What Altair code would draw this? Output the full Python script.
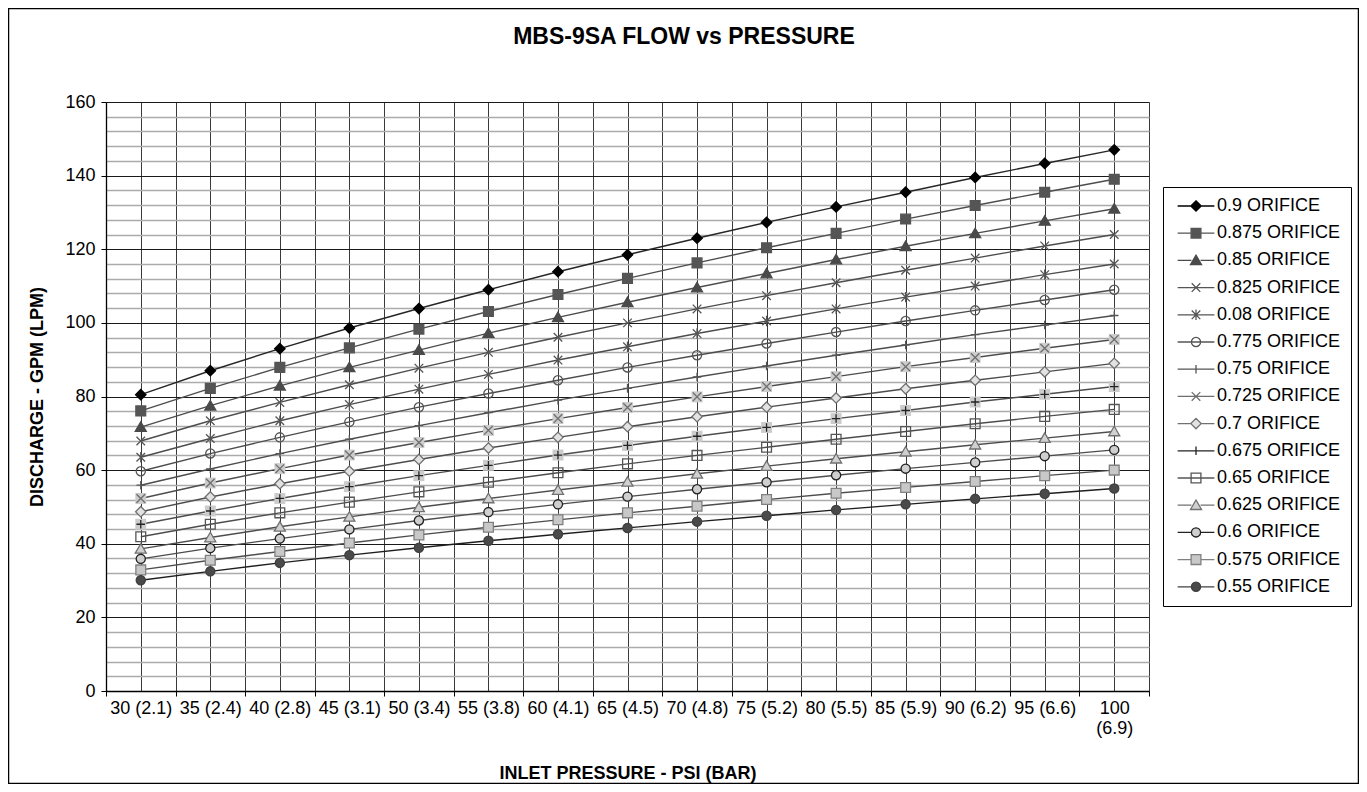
import json
import altair as alt
import pandas as pd

# ---------------- data ----------------
pressures = [30, 35, 40, 45, 50, 55, 60, 65, 70, 75, 80, 85, 90, 95, 100]
x_labels = ["30 (2.1)", "35 (2.4)", "40 (2.8)", "45 (3.1)", "50 (3.4)", "55 (3.8)",
            "60 (4.1)", "65 (4.5)", "70 (4.8)", "75 (5.2)", "80 (5.5)", "85 (5.9)",
            "90 (6.2)", "95 (6.6)", "100 (6.9)"]

series = ["0.9 ORIFICE", "0.875 ORIFICE", "0.85 ORIFICE", "0.825 ORIFICE",
          "0.08 ORIFICE", "0.775 ORIFICE", "0.75 ORIFICE", "0.725 ORIFICE",
          "0.7 ORIFICE", "0.675 ORIFICE", "0.65 ORIFICE", "0.625 ORIFICE",
          "0.6 ORIFICE", "0.575 ORIFICE", "0.55 ORIFICE"]

q_0900 = [80.5, 87.0, 93.0, 98.6, 103.9, 109.0, 113.9, 118.5, 123.0, 127.3, 131.5, 135.5, 139.5, 143.3, 147.0]
q_0875 = [76.1, 82.2, 87.9, 93.2, 98.3, 103.1, 107.7, 112.1, 116.3, 120.4, 124.3, 128.2, 131.9, 135.5, 139.0]
q_0850 = [71.7, 77.5, 82.9, 87.9, 92.6, 97.2, 101.5, 105.6, 109.6, 113.4, 117.2, 120.8, 124.3, 127.7, 131.0]
q_0825 = [67.9, 73.4, 78.4, 83.2, 87.7, 92.0, 96.1, 100.0, 103.8, 107.4, 110.9, 114.3, 117.6, 120.9, 124.0]
q_0080 = [63.5, 68.6, 73.4, 77.8, 82.0, 86.0, 89.9, 93.5, 97.1, 100.5, 103.8, 107.0, 110.0, 113.1, 116.0]
q_0775 = [59.7, 64.5, 68.9, 73.1, 77.1, 80.8, 84.4, 87.9, 91.2, 94.4, 97.5, 100.5, 103.4, 106.2, 109.0]
q_0750 = [55.9, 60.3, 64.5, 68.4, 72.1, 75.6, 79.0, 82.2, 85.3, 88.3, 91.2, 94.0, 96.8, 99.4, 102.0]
q_0725 = [52.3, 56.5, 60.4, 64.1, 67.5, 70.8, 74.0, 77.0, 79.9, 82.7, 85.4, 88.1, 90.6, 93.1, 95.5]
q_0700 = [48.7, 52.7, 56.3, 59.7, 62.9, 66.0, 68.9, 71.8, 74.5, 77.1, 79.6, 82.1, 84.4, 86.7, 89.0]
q_0675 = [45.3, 48.9, 52.3, 55.5, 58.5, 61.3, 64.1, 66.7, 69.2, 71.6, 74.0, 76.2, 78.5, 80.6, 82.7]
q_0650 = [41.9, 45.3, 48.4, 51.3, 54.1, 56.7, 59.3, 61.7, 64.0, 66.2, 68.4, 70.5, 72.6, 74.6, 76.5]
q_0625 = [38.6, 41.7, 44.6, 47.3, 49.9, 52.3, 54.6, 56.8, 59.0, 61.1, 63.1, 65.0, 66.9, 68.7, 70.5]
q_0600 = [35.9, 38.8, 41.4, 43.9, 46.3, 48.6, 50.7, 52.8, 54.8, 56.7, 58.6, 60.4, 62.1, 63.8, 65.5]
q_0575 = [32.9, 35.5, 37.9, 40.2, 42.4, 44.5, 46.5, 48.4, 50.2, 52.0, 53.7, 55.3, 56.9, 58.5, 60.0]
q_0550 = [30.1, 32.5, 34.8, 36.9, 38.9, 40.8, 42.6, 44.3, 46.0, 47.6, 49.2, 50.7, 52.2, 53.6, 55.0]

all_values = [q_0900, q_0875, q_0850, q_0825, q_0080, q_0775, q_0750, q_0725,
              q_0700, q_0675, q_0650, q_0625, q_0600, q_0575, q_0550]

y_ticks = list(range(0, 161, 4))
chart_title = "MBS-9SA FLOW vs PRESSURE"

# ---------------- styling ----------------
FONT = "Liberation Sans"

SQ = "M-0.8,-0.8H0.8V0.8H-0.8Z"
DIA = "M0,-0.85L0.85,0L0,0.85L-0.85,0Z"
TRI = "M0,-0.85L0.9,0.7H-0.9Z"
XX = "M-0.7,-0.7L0.7,0.7M-0.7,0.7L0.7,-0.7"
AST = XX + "M0,-0.85V0.85"
CIR = "M-0.75,0A0.75,0.75,0,1,0,0.75,0A0.75,0.75,0,1,0,-0.75,0Z"
PLUS = "M-0.7,0H0.7M0,-0.7V0.7"

marker_paths = [DIA, SQ, TRI, XX, AST, CIR, PLUS, XX, DIA, PLUS, SQ, TRI, CIR, SQ, CIR]
open_marker = [False, False, False, True, True, True, True, True, False, True, True, False, False, False, False]
marker_fill = ["#000000", "#555555", "#4a4a4a", "transparent", "transparent", "transparent",
               "transparent", "transparent", "#e2e2e2", "transparent", "transparent",
               "#d0d0d0", "#cfcfcf", "#c8c8c8", "#4a4a4a"]
marker_stroke = ["#000000", "#555555", "#4a4a4a", "#555555", "#555555", "#555555",
                 "#555555", "#6e6e6e", "#707070", "#222222", "#555555",
                 "#707070", "#222222", "#808080", "#404040"]
line_color = ["#262626", "#4d4d4d", "#4d4d4d", "#4d4d4d", "#4d4d4d", "#4d4d4d",
              "#4d4d4d", "#4d4d4d", "#4d4d4d", "#4d4d4d", "#4d4d4d",
              "#4d4d4d", "#4d4d4d", "#4d4d4d", "#1e1e1e"]
bg_series = ["0.725 ORIFICE", "0.675 ORIFICE"]

legend_paths = []
for p, op in zip(marker_paths, open_marker):
    if op:
        legend_paths.append("M-3,0H3" + p)
    else:
        legend_paths.append("M-3,0H-0.75M0.75,0H3" + p)

rows = []
for s, vals in zip(series, all_values):
    for p, v in zip(pressures, vals):
        rows.append({"series": s, "psi": p, "q": v})
df = pd.DataFrame(rows)

x_grid = sorted(set(pressures + [p - 2.5 for p in pressures] + [pressures[-1] + 2.5]))
lab_js = json.dumps([l.split(" ") if l.startswith("100") else l for l in x_labels])
x_label_expr = f"datum.value % 5 === 0 ? {lab_js}[(datum.value - {pressures[0]}) / 5] : ''"

x_enc = alt.X(
    "psi:Q",
    scale=alt.Scale(domain=[x_grid[0], x_grid[-1]], nice=False, zero=False),
    axis=alt.Axis(
        values=x_grid,
        labelExpr=x_label_expr,
        labelOverlap=False,
        labelFlush=False,
        labelFont=FONT, labelFontSize=18, labelColor="#000000",
        labelLineHeight=20, labelPadding=3,
        tickSize=5, tickColor="#000000",
        tickOpacity={"condition": {"test": "datum.value % 5 === 0", "value": 0}, "value": 1},
        grid=True, gridColor="#3a3a3a", gridWidth=1,
        domainColor="#000000", domainWidth=1.3,
        title="INLET PRESSURE - PSI (BAR)",
        titleFont=FONT, titleFontSize=18, titleFontWeight="bold", titleColor="#000000",
        titlePadding=27,
    ),
)
y_enc = alt.Y(
    "q:Q",
    scale=alt.Scale(domain=[0, 160], nice=False),
    axis=alt.Axis(
        values=y_ticks,
        labelExpr="datum.value % 20 === 0 ? datum.label : ''",
        labelFont=FONT, labelFontSize=18, labelColor="#000000", labelPadding=6,
        tickSize=5, tickColor="#000000",
        tickOpacity={"condition": {"test": "datum.value % 20 === 0", "value": 1}, "value": 0},
        grid=True,
        gridColor={"condition": {"test": "datum.value % 20 === 0", "value": "#1a1a1a"}, "value": "#ababab"},
        gridWidth={"condition": {"test": "datum.value % 20 === 0", "value": 1}, "value": 1.4},
        domainColor="#000000", domainWidth=1.3,
        title="DISCHARGE - GPM (LPM)",
        titleFont=FONT, titleFontSize=18, titleFontWeight="bold", titleColor="#000000",
        titlePadding=18,
    ),
)

base = alt.Chart(df).encode(x=x_enc, y=y_enc)

lines = base.mark_line(strokeWidth=1.4).encode(
    stroke=alt.Stroke("series:N", scale=alt.Scale(domain=series, range=line_color), legend=None),
    detail="series:N",
)

backs = base.mark_point(shape="square", filled=True, size=120, color="#cccccc", opacity=1).transform_filter(
    alt.FieldOneOfPredicate(field="series", oneOf=bg_series)
)

points = base.mark_point(size=150, opacity=1, strokeWidth=1.3).encode(
    shape=alt.Shape("series:N", scale=alt.Scale(domain=series, range=marker_paths), legend=None),
    fill=alt.Fill("series:N", scale=alt.Scale(domain=series, range=marker_fill), legend=None),
    stroke=alt.Stroke("series:N", scale=alt.Scale(domain=series, range=marker_stroke), legend=None),
)

leg = alt.Legend(
    title=None, orient="none", legendX=1057, legendY=85,
    labelFont=FONT, labelFontSize=18, labelColor="#000000",
    symbolSize=150, symbolStrokeWidth=1.3, symbolOffset=14, labelOffset=12,
    rowPadding=9.2, padding=10,
    strokeColor="#000000", fillColor="#ffffff",
)
legend_layer = base.mark_point(size=150, opacity=1, strokeWidth=1.3).encode(
    shape=alt.Shape("series:N", scale=alt.Scale(domain=series, range=legend_paths), legend=leg, sort=series),
    fill=alt.Fill("series:N", scale=alt.Scale(domain=series, range=marker_fill), legend=leg, sort=series),
    stroke=alt.Stroke("series:N", scale=alt.Scale(domain=series, range=marker_stroke), legend=leg, sort=series),
).transform_filter("false")

title_layer = alt.Chart(pd.DataFrame({"t": [chart_title]})).mark_text(
    font=FONT, fontSize=23, fontWeight="bold", color="#000000", align="center", baseline="middle"
).encode(text="t:N", x=alt.value(578), y=alt.value(-65))

border = alt.Chart(pd.DataFrame({"k": [0]})).mark_rect(
    fillOpacity=0, stroke="#000000", strokeWidth=1.5
).encode(
    x=alt.value(-97.5), x2=alt.value(1252.5), y=alt.value(-93.5), y2=alt.value(681.5)
)

chart = alt.layer(lines, backs, points, legend_layer, title_layer, border).resolve_scale(
    shape="independent", fill="independent", stroke="independent"
).properties(
    width=1043,
    height=589,
    padding={"left": 98, "top": 94, "right": 210, "bottom": 93},
    autosize=alt.AutoSizeParams(type="none"),
).configure_view(stroke=None)

chart.save("out.html", embed_options={"renderer": "svg", "actions": False})
